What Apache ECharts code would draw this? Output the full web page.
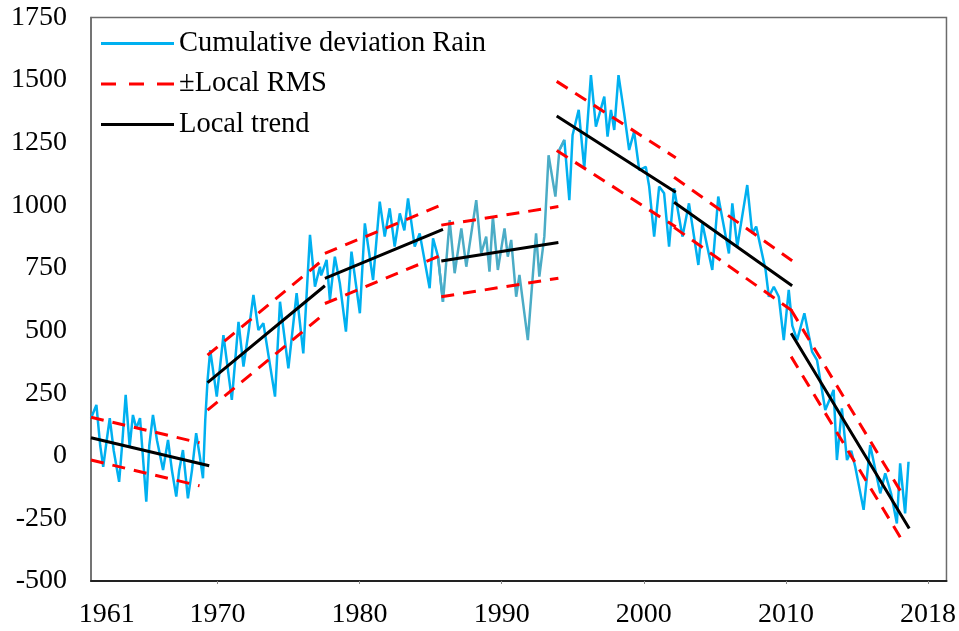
<!DOCTYPE html>
<html><head><meta charset="utf-8">
<script src="https://cdn.jsdelivr.net/npm/echarts@6/dist/echarts.min.js"></script>
<style>html,body{margin:0;padding:0;background:#fff}#c{width:959px;height:631px}</style>
</head><body><div id="c"></div>
<script>
// Cumulative deviation of rain
const rainYears = [1961.1,1961.48,1961.75,1961.96,1962.2,1962.42,1962.7,1963.08,1963.3,1963.54,1963.82,1964.05,1964.29,1964.55,1964.99,1965.2,1965.46,1965.75,1966.17,1966.52,1966.8,1967.1,1967.3,1967.57,1967.92,1968.2,1968.5,1968.75,1968.98,1969.14,1969.3,1969.49,1969.95,1970.42,1971.01,1971.48,1971.83,1972.2,1972.53,1972.88,1973.23,1974.05,1974.4,1974.99,1975.57,1976.04,1976.51,1976.86,1977.21,1977.3,1977.68,1977.91,1978.26,1978.61,1979.04,1979.43,1980.02,1980.37,1980.95,1981.42,1981.77,1982.12,1982.47,1982.83,1983.15,1983.41,1983.88,1984.23,1984.93,1985.17,1985.52,1985.87,1986.34,1986.69,1987.16,1987.51,1988.21,1988.56,1988.91,1989.14,1989.38,1989.73,1990.2,1990.43,1990.67,1991.02,1991.25,1991.84,1992.42,1992.65,1993.0,1993.3,1993.78,1994.06,1994.41,1994.76,1994.99,1995.42,1995.81,1996.28,1996.63,1997.22,1997.45,1997.69,1997.92,1998.22,1998.62,1998.97,1999.32,1999.68,2000.14,2000.38,2000.73,2001.08,2001.43,2001.78,2002.13,2002.72,2003.18,2003.84,2004.12,2004.82,2005.24,2005.99,2006.23,2006.58,2007.28,2007.63,2007.91,2008.57,2008.8,2009.15,2009.5,2009.85,2010.2,2010.45,2010.79,2011.3,2011.84,2012.19,2012.77,2013.36,2013.59,2013.94,2014.3,2014.6,2014.88,2015.47,2015.93,2016.64,2016.99,2017.4,2017.81,2018.04,2018.39,2018.63];
const rainValues = [150,203,40,-44,60,150,20,-104,50,243,36,163,110,150,-183,40,163,60,-57,63,-60,-163,-60,23,-170,-60,90,0,-90,143,300,422,236,482,223,535,356,500,642,502,529,236,615,349,649,409,882,675,755,720,782,622,795,689,496,815,569,928,702,1015,875,988,835,968,900,1028,835,888,669,868,795,615,941,729,908,755,1021,808,875,735,955,742,908,795,862,635,722,462,888,715,875,1200,1035,1221,1261,1021,1281,1381,1148,1520,1314,1434,1274,1381,1301,1520,1367,1221,1294,1141,1154,1075,875,1075,1048,835,1068,875,1008,762,928,742,1035,808,1008,835,1081,888,915,742,635,675,635,462,662,520,462,569,416,382,183,263,-17,189,-17,20,-44,-216,43,-150,-70,-150,-270,-30,-230,-24];
// period drawn in a muted blue in the picture
const mutedFrom = 1985.75, mutedTo = 1994.06;

// Local trend segments
const trendStartYears = [1961.1,1969.3,1977.56,1985.75,1993.87,2002.13,2010.37];
const trendEndYears   = [1969.42,1977.56,1985.87,1993.99,2002.25,2010.44,2018.68];
const trendStartValues = [72,292,708,778,1357,1012,489];
const trendEndValues   = [-40,679,904,852,1052,679,-290];

// ±Local RMS band segments
const rmsStartYears = [1961.1,1969.3,1977.56,1985.75,1993.87,2002.13,2010.37];
const rmsEndYears   = [1968.74,1977.56,1985.87,1993.99,2002.25,2010.44,2018.16];
const rmsUpperStart = [154,402,808,921,1495,1112,582];
const rmsUpperEnd   = [52,789,1004,995,1190,779,-150];
const rmsLowerStart = [-17,182,608,635,1219,912,396];
const rmsLowerEnd   = [-120,569,804,709,914,579,-336];

// Axis ticks / labels
const xTickValues = [1970,1980,1990,2000,2010,2020];
const xLabelValues = [1962.2,1970,1980,1990,2000,2010,2020];
const xLabelTexts = ['1961','1970','1980','1990','2000','2010','2018'];

const rainAll = rainYears.map((x,i)=>[x, rainValues[i]]);
const rainMuted = rainAll.filter((p,i)=>{
  const nxt = rainAll[i+1], prv = rainAll[i-1];
  return (p[0] >= mutedFrom && p[0] <= mutedTo) || (nxt && nxt[0] >= mutedFrom && p[0] < mutedFrom) || (prv && prv[0] <= mutedTo && p[0] > mutedTo);
});
const rainBright = rainAll.map((p,i)=>{
  if (p[0] < mutedFrom || p[0] > mutedTo) return p;
  const prv = rainAll[i-1], nxt = rainAll[i+1];
  if (prv && prv[0] < mutedFrom) return p;
  if (nxt && nxt[0] > mutedTo) return p;
  return [p[0], null];
});

function segs(xs0, xs1, ys0, ys1){
  const out = [];
  xs0.forEach((x,i)=>{
    if(i>0) out.push([(xs0[i]+xs1[i-1])/2, null]);
    out.push([x, ys0[i]]); out.push([xs1[i], ys1[i]]);
  });
  return out;
}
const trendData = segs(trendStartYears, trendEndYears, trendStartValues, trendEndValues);
const rmsData = segs(rmsStartYears, rmsEndYears, rmsUpperStart, rmsUpperEnd)
  .concat([[1990, null]])
  .concat(segs(rmsStartYears, rmsEndYears, rmsLowerStart, rmsLowerEnd));

const font = 'Liberation Serif';
const solidIcon = 'path://M0,0H73V3H0Z';
const dashIcon = 'path://M0,0H15V3H0ZM28,0H43V3H28ZM56,0H73V3H56Z';
const chart = echarts.init(document.getElementById('c'), null, {renderer:'canvas'});
chart.setOption({
  animation:false,
  backgroundColor:'#fff',
  grid:{left:91, top:17.5, right:11.3, bottom:50, show:true, borderColor:'#6b6b6b', borderWidth:1.5},
  legend:{
    show:true, orient:'vertical', left:101, top:29, padding:0, itemWidth:73, itemHeight:3, itemGap:11.5,
    textStyle:{fontFamily:font, fontSize:28.5, color:'#000'},
    data:[
      {name:'Cumulative deviation Rain', icon:solidIcon},
      {name:'±Local RMS', icon:dashIcon},
      {name:'Local trend', icon:solidIcon}
    ]
  },
  xAxis:{
    type:'value', min:1961.1, max:2021.3,
    axisLine:{show:true, onZero:false, lineStyle:{color:'#222', width:2}},
    axisTick:{show:true, customValues:xTickValues, length:3, lineStyle:{color:'#888', width:1}},
    axisLabel:{customValues:xLabelValues, fontFamily:font, fontSize:28, color:'#000', margin:20,
      formatter:(v)=>{const i = xLabelValues.findIndex(t=>Math.abs(t-v)<1e-6); return i>=0?xLabelTexts[i]:'';}},
    splitLine:{show:false}
  },
  yAxis:{
    type:'value', min:-500, max:1750, interval:250,
    axisLine:{show:true, lineStyle:{color:'#6b6b6b', width:1.5}},
    axisTick:{show:false},
    axisLabel:{fontFamily:font, fontSize:28, color:'#000', margin:24, formatter:(v)=>String(v)},
    splitLine:{show:false}
  },
  series:[
    {name:'Cumulative deviation Rain', type:'line', data:rainBright, showSymbol:false, symbol:'none', connectNulls:false,
      lineStyle:{width:2.5, color:'#00B0F0'}, itemStyle:{color:'#00B0F0'}, z:2},
    {name:'Cumulative deviation Rain', type:'line', data:rainMuted, showSymbol:false, symbol:'none',
      lineStyle:{width:2.5, color:'#4BACC6'}, itemStyle:{color:'#4BACC6'}, z:2},
    {name:'±Local RMS', type:'line', data:rmsData, showSymbol:false, symbol:'none', connectNulls:false,
      lineStyle:{width:3, color:'#FF0000', type:[13,9]}, itemStyle:{color:'#FF0000'}, z:3},
    {name:'Local trend', type:'line', data:trendData, showSymbol:false, symbol:'none', connectNulls:false,
      lineStyle:{width:3, color:'#000'}, itemStyle:{color:'#000'}, z:4}
  ]
});
</script></body></html>
